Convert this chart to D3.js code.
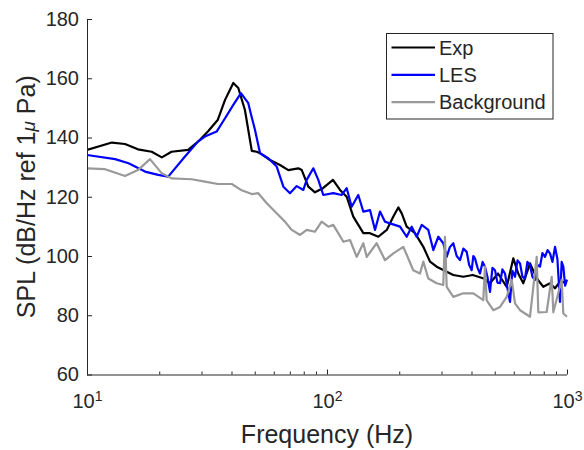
<!DOCTYPE html>
<html>
<head>
<meta charset="utf-8">
<script src="https://cdn.jsdelivr.net/npm/d3@7"></script>
<style>
	body { margin: 0; background: #fff; }
	text { font-family: Arial, "Liberation Sans", sans-serif; fill: #262626; }
</style>
</head>
<body>
<div id="chart"></div>
<script>
// values
var expFreq = [10, 12.7, 14.4, 16.3, 18.6, 20.5, 22.5, 26.4, 29, 31.9, 35.1, 37.6, 40.7, 42.7, 45.5, 48.6, 50.9, 52.6, 57.9, 63.7, 69, 75.9, 78.5, 83.6, 89.1, 96.2, 105.9, 113.3, 120.8, 128.7, 141.7, 151.1, 163.6, 177.4, 189, 198.2, 204.8, 214.8, 232.6, 252, 268.7, 286.4, 315.3, 336, 369.8, 404.9, 446.6, 477.7, 515.8, 560.8, 597.5, 626.9, 657.7, 701.3, 747.8, 796.7, 849.6, 891.3, 935, 1000];
var expSpl = [135.8, 138.3, 137.8, 136, 135.2, 133.3, 135.2, 135.8, 138.6, 142, 146, 152.7, 158.4, 156.7, 149.3, 135.5, 135.2, 134.7, 132.4, 130.7, 129, 129.6, 129, 123.4, 121.5, 122.9, 125.7, 122.3, 120, 113.3, 107.7, 107.7, 106.5, 108.8, 113.3, 116.4, 114.4, 109.9, 107.7, 103.1, 98.1, 96.4, 94.7, 93.6, 93, 93.6, 92.5, 90.8, 94.1, 89.6, 99.2, 94, 90.8, 97.5, 92.5, 89.6, 90.8, 89.1, 91.3, 91];

var lesFreq = [10, 13.1, 14.9, 17.45, 19.8, 21.8, 25.6, 29, 31, 34.7, 37.6, 40.7, 43.8, 47, 48.1, 50.1, 52.6, 56.9, 61.7, 65.8, 70.1, 74.8, 79.7, 82.3, 87.7, 92, 96.5, 106.2, 115.2, 120.8, 126.7, 135, 141.7, 151.1, 158.5, 166.3, 174.5, 183, 201.5, 214.8, 225.4, 236.4, 248.1, 264.3, 277.3, 290.9, 305.1, 315.3, 325, 336, 347, 358.3, 370, 382.1, 391, 400.7, 407, 413.6, 424, 434, 445, 455.2, 466, 477.7, 489, 501.2, 513, 526, 538, 551.7, 565, 578.8, 592, 607.3, 622, 637.3, 652, 668.3, 684, 701.3, 718, 735.8, 753, 771.9, 790, 809.6, 830, 849.6, 870, 891.3, 912, 935, 950, 965.2, 982, 1000];
var lesSpl = [134.1, 132.7, 131.3, 128.5, 127.4, 126.8, 133.6, 138.6, 140.3, 142, 146.5, 151, 155, 151.6, 148.2, 142.6, 134.7, 133, 130.2, 123.4, 121.2, 123.6, 122.3, 125.7, 129.6, 125.7, 120.6, 121.2, 120.6, 122.9, 116.6, 120.6, 115, 115.5, 108.8, 115, 111.6, 111, 109.9, 106.5, 109.9, 106.5, 110.5, 108.8, 102, 106.5, 104.3, 99.7, 103, 104.3, 100, 98.6, 102.5, 101.4, 97, 95.2, 100, 99.2, 96, 94.1, 98, 96.4, 93, 87.9, 96, 95.2, 91, 90.8, 95.5, 94.1, 89, 84.5, 95, 93, 98.5, 97.5, 93, 92.4, 98, 96.9, 93, 91.9, 97, 96.4, 101, 99.7, 102, 100.9, 98, 103.1, 99, 84.5, 98, 96.4, 90, 92];

var bgFreq = [10, 11.9, 14.4, 16.3, 18.3, 20.5, 22.5, 27.3, 31, 35.1, 40.1, 43.8, 48.6, 51.7, 56.1, 61.7, 66.8, 71.3, 77.2, 82.3, 89.1, 95, 101.3, 106.2, 117, 124.7, 133, 141.7, 146.4, 161, 174.5, 189, 208, 228.8, 244.1, 252, 264.3, 286.4, 305.1, 310.1, 315.3, 336, 369.8, 407, 448, 455.2, 462.7, 493.2, 526, 560.8, 588.4, 607.3, 637.3, 701.3, 747.8, 759.3, 823, 863.6, 877, 950.4, 965.2, 1000];
var bgSpl = [129.6, 129.3, 127, 129, 132.7, 127.9, 126.2, 125.9, 125.1, 124.3, 124.3, 122.3, 120.9, 121.2, 117.8, 114.4, 111.6, 108.8, 107.1, 108.8, 108.2, 111.6, 109.9, 110.5, 104.8, 105.4, 99.7, 104.3, 99.7, 104.3, 98.6, 100.9, 103.1, 95.2, 94.1, 98.1, 92.4, 90.8, 90.2, 106.5, 89.6, 86.2, 87.4, 87.4, 85.1, 96.4, 85, 81.7, 82.8, 86.2, 91.9, 84, 81.7, 79.5, 99.7, 81, 81.1, 93, 81, 92, 80.6, 79.5];

var seriesNames = ['Exp', 'LES', 'Background'];
var seriesColors = ['#000000', '#0000ff', '#999999'];
var yTicks = [60, 80, 100, 120, 140, 160, 180];
var xTicks = [10, 100, 1000];
var xMinorTicks = [20, 30, 40, 50, 60, 70, 80, 90, 200, 300, 400, 500, 600, 700, 800, 900];

const W = 584;
const H = 450;
const MARGIN = { TOP: 19, LEFT: 87, BOTTOM: 75.5, RIGHT: 17 };
const PW = W - MARGIN.LEFT - MARGIN.RIGHT;
const PH = H - MARGIN.TOP - MARGIN.BOTTOM;
const AXIS_COLOR = '#262626';

var svg = d3.select('#chart').append('svg')
	.attr('width', W)
	.attr('height', H)
	.append('g')
	.attr('transform', 'translate(' + MARGIN.LEFT + ',' + MARGIN.TOP + ')');

var x = d3.scaleLog().domain([10, 1000]).range([0, PW]);
var y = d3.scaleLinear().domain([60, 180]).range([PH, 0]);

var series = [
	{ freq: expFreq, spl: expSpl },
	{ freq: lesFreq, spl: lesSpl },
	{ freq: bgFreq, spl: bgSpl }
];

var line = d3.line()
	.x(function (d) { return x(d[0]); })
	.y(function (d) { return y(d[1]); });

svg.append('clipPath').attr('id', 'clip')
	.append('rect').attr('width', PW + 2).attr('height', PH);

series.forEach(function (s, i) {
	var pts = s.freq.map(function (f, j) { return [f, s.spl[j]]; });
	svg.append('path')
		.datum(pts)
		.attr('clip-path', 'url(#clip)')
		.attr('fill', 'none')
		.attr('stroke', seriesColors[i])
		.attr('stroke-width', 2.2)
		.attr('stroke-linejoin', 'round')
		.attr('d', line);
});

// axes
var xAxis = d3.axisBottom(x).tickValues(xTicks).tickSize(-5).tickPadding(19).tickFormat('');
var xMinor = d3.axisBottom(x).tickValues(xMinorTicks).tickSize(-3).tickFormat('');
var yAxis = d3.axisLeft(y).tickValues(yTicks).tickSize(-5).tickPadding(8);

var gx = svg.append('g')
	.attr('transform', 'translate(0,' + PH + ')')
	.call(xAxis);
svg.append('g')
	.attr('transform', 'translate(0,' + PH + ')')
	.call(xMinor)
	.select('.domain').remove();
var gy = svg.append('g').call(yAxis);

gx.selectAll('.tick text').each(function (d) {
	var t = d3.select(this);
	t.append('tspan').text('10');
	t.append('tspan').attr('dy', '-0.45em').attr('font-size', 14).text(Math.round(Math.log10(d)));
});

gx.select('.domain').attr('d', 'M0,0.5H' + PW);
gy.select('.domain').attr('d', 'M0.5,0V' + PH);
svg.selectAll('.domain').attr('stroke', AXIS_COLOR).attr('stroke-width', 1);
svg.selectAll('.tick line').attr('stroke', AXIS_COLOR);
svg.selectAll('.tick text').attr('font-size', 20).attr('fill', AXIS_COLOR)
	.style('font-family', 'Arial, "Liberation Sans", sans-serif');

// axis labels
svg.append('text')
	.attr('x', PW / 2)
	.attr('y', PH + 68)
	.attr('text-anchor', 'middle')
	.attr('font-size', 25)
	.text('Frequency (Hz)');

var yl = svg.append('text')
	.attr('transform', 'translate(' + (-52) + ',' + (PH / 2) + ') rotate(-90)')
	.attr('text-anchor', 'middle')
	.attr('font-size', 25);
yl.append('tspan').text('SPL (dB/Hz ref 1');
yl.append('tspan').attr('font-style', 'italic').attr('font-size', 19).text('\u03bc');
yl.append('tspan').text(' Pa)');

// legend
var lg = svg.append('g').attr('transform', 'translate(' + (386.5 - MARGIN.LEFT) + ',' + (33.5 - MARGIN.TOP) + ')');
lg.append('rect')
	.attr('width', 166.5)
	.attr('height', 85.5)
	.attr('fill', '#fff')
	.attr('stroke', AXIS_COLOR)
	.attr('stroke-width', 1);
seriesNames.forEach(function (name, i) {
	var cy = 14 + i * 27.3;
	lg.append('line')
		.attr('x1', 5).attr('x2', 48.5)
		.attr('y1', cy).attr('y2', cy)
		.attr('stroke', seriesColors[i])
		.attr('stroke-width', 2.2);
	lg.append('text')
		.attr('x', 52.5)
		.attr('y', cy + 7)
		.attr('font-size', 20)
		.text(name);
});
</script>
</body>
</html>
